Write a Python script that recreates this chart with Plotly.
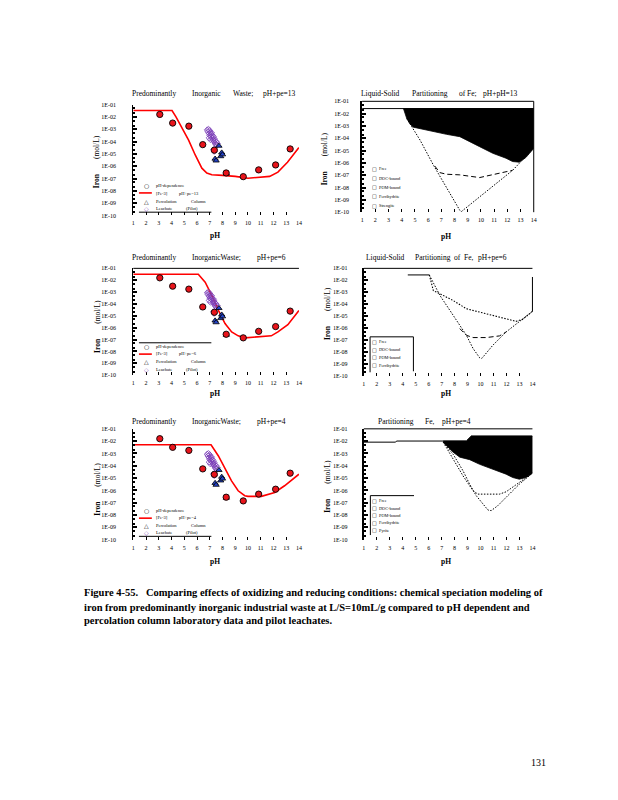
import plotly.graph_objects as go

W, H = 618, 800
SERIF = "Liberation Serif"

# ---------------- data (log10 of Fe concentration, mol/L) ----------------
# pH-dependence laboratory data (same on the three left panels)
phdep_ph = [3.08, 4.09, 5.36, 6.45, 7.36, 8.29, 9.63, 10.84, 12.17, 13.31]
phdep_log = [-1.8, -2.5, -2.75, -4.25, -4.7, -6.55, -6.85, -6.3, -5.9, -4.6]

# percolation column data
perc_ph = [7.42, 7.5, 7.72, 7.86, 7.94, 8.0, 8.3]
perc_log = [-5.4, -5.55, -4.35, -5.2, -4.9, -5.05, -6.6]

# pilot leachate data
leach_ph = [6.8, 6.85, 6.9, 6.95, 7.0, 7.0, 7.05, 7.1, 7.1, 7.15, 7.2, 7.2, 7.25,
            7.3, 7.3, 7.35, 7.4, 7.4, 7.45, 7.5, 7.55, 7.6, 7.3, 7.35, 6.95, 7.05]
leach_log = [-3.05, -3.2, -3.0, -3.35, -3.1, -3.5, -3.25, -3.6, -3.4, -3.3, -3.7, -3.5, -3.85,
             -3.6, -3.95, -3.75, -4.1, -3.9, -4.2, -4.0, -4.3, -4.15, -4.65, -4.8, -3.7, -3.85]

# model [Fe-3] curves
fe13_ph = [1, 4.04, 4.35, 4.82, 5.34, 5.86, 6.38, 6.77, 7.16, 8.0, 9.0, 10.0, 10.8, 11.7, 12.35, 13.1, 14]
fe13_log = [-1.48, -1.48, -1.99, -2.94, -3.88, -5.09, -6.16, -6.56, -6.7, -6.75, -6.83, -6.98, -6.89, -6.83, -6.48, -5.68, -4.49]
fe6_ph = [1, 6.1, 6.64, 7.16, 7.68, 8.2, 8.72, 9.23, 9.75, 10.8, 11.83, 12.35, 13.13, 14]
fe6_log = [-1.5, -1.5, -2.17, -3.28, -4.54, -5.65, -6.35, -6.68, -6.85, -6.77, -6.68, -6.35, -5.74, -4.54]
fe4_ph = [1, 7.1, 7.68, 8.2, 8.71, 9.23, 9.75, 10.0, 11.05, 12.1, 12.87, 14]
fe4_log = [-2.29, -2.29, -3.2, -4.28, -5.22, -6.03, -6.43, -6.48, -6.48, -6.16, -5.62, -4.68]

# partitioning, pH+pe=13
p13_tot_ph = [1, 4.13, 14]
p13_tot_log = [-1.59, -1.59, -1.59]
p13_low_ph = [4.13, 4.38, 4.63, 4.88, 5.39, 6.39, 7.39, 8.4, 9.15, 9.9, 10.9, 11.9, 12.4, 12.9, 13.4, 14]
p13_low_log = [-1.59, -2.4, -2.85, -3.1, -3.2, -3.47, -3.68, -3.87, -4.28, -4.68, -5.22, -5.62, -5.89, -5.94, -5.57, -4.82]
p13_free_ph = [4.38, 5.39, 6.39, 7.39, 8.4, 8.52, 9.4, 10.4, 11.4, 12.4, 14]
p13_free_log = [-2.4, -4.15, -6.16, -8.04, -9.85, -9.95, -9.2, -8.3, -7.5, -6.6, -4.82]
p13_doc_ph = [6.5, 6.89, 7.39, 8.4, 9.9, 10.9, 11.9, 12.4]
p13_doc_log = [-6.25, -6.79, -6.92, -6.97, -7.19, -6.97, -6.71, -6.6]

# partitioning, pH+pe=6
p6_tot_ph = [4.39, 6.05]
p6_tot_log = [-1.55, -1.55]
p6_pom_ph = [6.05, 6.36, 6.87, 7.89, 8.91, 9.93, 10.95, 11.97, 12.73, 13.24, 14]
p6_pom_log = [-1.55, -2.86, -3.13, -3.69, -4.38, -4.66, -4.93, -5.21, -5.43, -5.27, -4.6]
p6_free_ph = [6.05, 6.87, 7.89, 8.91, 9.42, 9.93, 10.1, 10.44, 10.95, 11.97, 12.99, 14]
p6_free_log = [-1.55, -3.27, -4.93, -6.6, -7.7, -8.48, -8.53, -8.12, -7.43, -6.32, -5.49, -4.6]
p6_doc_ph = [8.4, 8.91, 9.42, 10.44, 11.46, 11.97]
p6_doc_log = [-6.04, -6.6, -6.79, -6.79, -6.65, -6.32]

# partitioning, pH+pe=4
p4_tot_ph = [1, 3.42, 3.55, 7.12, 8.91, 9.29, 14]
p4_tot_log = [-2.08, -2.08, -1.99, -1.99, -1.99, -1.59, -1.59]
p4_low_ph = [7.12, 7.38, 7.89, 8.4, 9.16, 9.93, 10.95, 11.97, 12.48, 12.99, 13.5, 14]
p4_low_log = [-2.08, -2.4, -2.9, -3.3, -3.5, -3.88, -4.28, -4.68, -4.95, -5.09, -4.95, -4.6]
p4_free_ph = [7.12, 7.89, 8.65, 9.16, 9.67, 10.18, 10.57, 10.82, 11.33, 11.97, 12.99, 14]
p4_free_log = [-2.08, -3.07, -4.41, -5.49, -6.43, -7.1, -7.59, -7.64, -7.24, -6.56, -5.49, -4.6]
p4_doc_ph = [7.12, 7.89, 8.65, 9.42, 9.8, 11.46, 11.97, 12.99, 14]
p4_doc_log = [-2.08, -3.47, -4.82, -6.03, -6.3, -6.3, -6.11, -5.35, -4.6]

ytick_vals = [1e-1, 1e-2, 1e-3, 1e-4, 1e-5, 1e-6, 1e-7, 1e-8, 1e-9, 1e-10]
ytick_text = ["1E-01", "1E-02", "1E-03", "1E-04", "1E-05", "1E-06", "1E-07", "1E-08", "1E-09", "1E-10"]
xtick_vals = list(range(1, 15))


def lin(v):
    return [10 ** a for a in v]


# ---------------- panel geometry (pixels) ----------------
panels = {
    1: dict(x=(124.3, 291.3), y=(94.3, 206.0), std=15),
    2: dict(x=(355.0, 528.0), y=(91.0, 202.7), std=10),
    3: dict(x=(124.3, 291.3), y=(259.3, 367.0), std=15),
    4: dict(x=(356.7, 526.7), y=(259.3, 367.7), std=13),
    5: dict(x=(124.3, 291.3), y=(421.0, 532.7), std=15),
    6: dict(x=(356.7, 526.7), y=(421.0, 532.7), std=13),
}

fig = go.Figure()
layout = dict(width=W, height=H, margin=dict(l=0, r=0, t=0, b=0),
              paper_bgcolor="white", plot_bgcolor="white", showlegend=False)

for i, p in panels.items():
    sx = "" if i == 1 else str(i)
    right = i in (2, 4, 6)
    layout["xaxis" + sx] = dict(
        domain=[p["x"][0] / W, p["x"][1] / W], range=[1, 14], anchor="y" + sx,
        tickvals=xtick_vals, ticks="inside", ticklen=3, tickcolor="black",
        showline=False, showgrid=False, zeroline=False, ticklabelstandoff=3,
        tickfont=dict(family=SERIF, size=6, color="black"))
    layout["yaxis" + sx] = dict(
        domain=[1 - p["y"][1] / H, 1 - p["y"][0] / H], type="log", range=[-10, -1],
        anchor="x" + sx, tickvals=ytick_vals, ticktext=ytick_text,
        ticks="inside", ticklen=4, tickwidth=1.5, tickcolor="black",
        minor=dict(ticks="inside", ticklen=2, tickcolor="black", showgrid=False),
        showline=True, linecolor="black", linewidth=2 if right else 1.2,
        showgrid=False, zeroline=False, ticklabelstandoff=p["std"],
        tickfont=dict(family=SERIF, size=6, color="black"))


def add(trace, i):
    sx = "" if i == 1 else str(i)
    trace.update(xaxis="x" + sx, yaxis="y" + sx)
    fig.add_trace(trace)


DOT = "1.5px,1.5px"

# ---------------- left panels ----------------
for i, (mph, mlog) in zip((1, 3, 5), ((fe13_ph, fe13_log), (fe6_ph, fe6_log), (fe4_ph, fe4_log))):
    add(go.Scatter(x=mph, y=lin(mlog), mode="lines", line=dict(color="#FF0000", width=1.6)), i)
    add(go.Scatter(x=leach_ph, y=lin(leach_log), mode="markers",
                   marker=dict(symbol="diamond-open", size=4.5, color="#7B3FB8", line=dict(width=0.8))), i)
    add(go.Scatter(x=perc_ph, y=lin(perc_log), mode="markers",
                   marker=dict(symbol="triangle-up", size=5.5, color="#2342C8",
                               line=dict(color="black", width=0.8))), i)
    add(go.Scatter(x=phdep_ph, y=lin(phdep_log), mode="markers",
                   marker=dict(symbol="circle", size=6.3, color="#E8141B",
                               line=dict(color="black", width=0.9))), i)

# ---------------- right panels ----------------
def black_fill(i, up_ph, up_log, lo_ph, lo_log):
    xs = list(up_ph) + list(reversed(lo_ph))
    ys = list(up_log) + list(reversed(lo_log))
    add(go.Scatter(x=xs, y=lin(ys), mode="lines", fill="toself", fillcolor="black",
                   line=dict(color="black", width=0.8)), i)


# pH+pe=13
add(go.Scatter(x=p13_tot_ph, y=lin(p13_tot_log), mode="lines", line=dict(color="black", width=1)), 2)
black_fill(2, p13_tot_ph[1:], p13_tot_log[1:], p13_low_ph, p13_low_log)
add(go.Scatter(x=p13_free_ph, y=lin(p13_free_log), mode="lines",
               line=dict(color="black", width=1, dash=DOT)), 2)
add(go.Scatter(x=p13_doc_ph, y=lin(p13_doc_log), mode="lines",
               line=dict(color="black", width=1, dash="5px,3px")), 2)

# pH+pe=6
add(go.Scatter(x=p6_tot_ph, y=lin(p6_tot_log), mode="lines", line=dict(color="black", width=1)), 4)
add(go.Scatter(x=p6_pom_ph, y=lin(p6_pom_log), mode="lines",
               line=dict(color="black", width=1.1, dash=DOT)), 4)
add(go.Scatter(x=p6_free_ph, y=lin(p6_free_log), mode="lines",
               line=dict(color="black", width=1, dash=DOT)), 4)
add(go.Scatter(x=p6_doc_ph, y=lin(p6_doc_log), mode="lines",
               line=dict(color="black", width=1, dash="5px,3px")), 4)

# pH+pe=4
add(go.Scatter(x=p4_tot_ph, y=lin(p4_tot_log), mode="lines", line=dict(color="black", width=1)), 6)
black_fill(6, p4_tot_ph[3:], p4_tot_log[3:], p4_low_ph, p4_low_log)
add(go.Scatter(x=p4_free_ph, y=lin(p4_free_log), mode="lines",
               line=dict(color="black", width=1, dash=DOT)), 6)
add(go.Scatter(x=p4_doc_ph, y=lin(p4_doc_log), mode="lines",
               line=dict(color="black", width=1, dash=DOT)), 6)

# ---------------- frame lines & legend decorations (pixels) ----------------
shapes = []


def pline(x0, y0, x1, y1, color="black", width=1):
    shapes.append(dict(type="line", xref="paper", yref="paper",
                       x0=x0 / W, x1=x1 / W, y0=1 - y0 / H, y1=1 - y1 / H,
                       line=dict(color=color, width=width)))


# top borders / right borders
pline(355.0, 91.0, 528.0, 91.0)
pline(528.0, 91.0, 528.0, 202.7)
pline(124.3, 259.3, 291.3, 259.3)
pline(356.7, 259.3, 526.7, 259.3)
pline(526.7, 268.0, 526.7, 303.0)
pline(356.7, 421.0, 526.7, 421.0)

# left legends
pline(130, 202.7, 203, 202.7)
pline(130, 183.3, 143, 183.3, "#FF0000", 1.6)
pline(130, 334.3, 203, 334.3)
pline(130, 345.7, 143, 345.7, "#FF0000", 1.6)
pline(130, 529.3, 203, 529.3)
pline(130, 511.0, 143, 511.0, "#FF0000", 1.6)
# right legend boxes
pline(363, 328.3, 406.7, 328.3)
pline(363, 328.3, 363, 364)
pline(406.7, 328.3, 406.7, 363)
pline(363.3, 488.3, 407.3, 488.3)
pline(363.3, 488.3, 363.3, 528)

layout["shapes"] = shapes

# ---------------- text ----------------
anns = []


def ann(text, px, py, size=7.5, xanchor="left", angle=0, color="black", bold=False, family=SERIF):
    if bold:
        text = "<b>" + text + "</b>"
    anns.append(dict(text=text, x=px / W, y=1 - py / H, xref="paper", yref="paper",
                     xanchor=xanchor, yanchor="middle", showarrow=False, textangle=angle,
                     font=dict(family=family, size=size, color=color)))


# titles
ann("Predominantly", 121, 83)
ann("Inorganic", 181.7, 83)
ann("Waste;", 223, 83)
ann("pH+pe=13", 253, 83)
ann("Liquid-Solid", 352, 83)
ann("Partitioning", 403, 83)
ann("of Fe;", 451, 83)
ann("pH+pH=13", 475, 83)

ann("Predominantly", 121, 248)
ann("InorganicWaste;", 181.7, 248)
ann("pH+pe=6", 246.7, 248)
ann("Liquid-Solid", 356.7, 248)
ann("Partitioning", 406, 248)
ann("of  Fe,", 445.7, 248)
ann("pH+pe=6", 469.3, 248)

ann("Predominantly", 121, 414)
ann("InorganicWaste;", 181.7, 414)
ann("pH+pe=4", 246.7, 414)
ann("Partitioning", 369, 414)
ann("Fe,", 416.7, 414)
ann("pH+pe=4", 433.3, 414)

# axis titles
ylab = "<b>Iron</b>        (mol/L)"
for px, py in ((88, 152), (317, 149), (88, 318), (320, 305), (88, 482), (320, 479)):
    ann(ylab, px, py, size=7.5, xanchor="center", angle=-90)
for px, py in ((207, 226), (440, 227), (207, 385.7), (440, 385.7), (207, 555), (440, 555)):
    ann("<b>pH</b>", px, py, size=7.5, xanchor="center")

# left legends text
def left_legend(y0, dy, pe):
    ann("○", 137.5, y0, size=6, xanchor="center", family="DejaVu Sans")
    ann("pH-dependence", 145, y0, size=4.5)
    ann("[Fe-3]", 145, y0 + dy, size=4.5)
    ann(pe, 168, y0 + dy, size=4.5)
    ann("△", 137.5, y0 + 2 * dy, size=6, xanchor="center", family="DejaVu Sans")
    ann("Percolation", 145, y0 + 2 * dy, size=4.5)
    ann("Column", 180, y0 + 2 * dy, size=4.5)
    ann("◇", 137.5, y0 + 3 * dy, size=6, xanchor="center", color="#7B3FB8", family="DejaVu Sans")
    ann("Leachate", 145, y0 + 3 * dy, size=4.5)
    ann("(Pilot)", 175, y0 + 3 * dy, size=4.5)


left_legend(176, 7.8, "pH+pe=13")
left_legend(337.7, 7.8, "pH+pe=6")
left_legend(503.3, 7.5, "pH+pe=4")


def right_legend(x, y0, dy, items):
    for k, t in enumerate(items):
        ann("□", x, y0 + k * dy, size=5, xanchor="center", family="DejaVu Sans")
        ann(t, x + 3, y0 + k * dy, size=4.3)


right_legend(367, 159, 9.3, ["Free", "DOC-bound", "POM-bound", "Ferrihydrite", "Strengite"])
right_legend(367, 333.3, 7.8, ["Free", "DOC-bound", "POM-bound", "Ferrihydrite"])
right_legend(367, 493.3, 7.5, ["Free", "DOC-bound", "POM-bound", "Ferrihydrite", "Pyrite"])

# caption
cap = [
    "Figure 4-55.   Comparing effects of oxidizing and reducing conditions: chemical speciation modeling of",
    "iron from predominantly inorganic industrial waste at L/S=10mL/g compared to pH dependent and",
    "percolation column laboratory data and pilot leachates.",
]
for t, py in zip(cap, (586, 601.5, 614.5)):
    ann(t, 73, py, size=10.5, bold=True)

ann("131", 533, 757, size=10, xanchor="center")

layout["annotations"] = anns
fig.update_layout(**layout)
fig.write_html("out.html")
